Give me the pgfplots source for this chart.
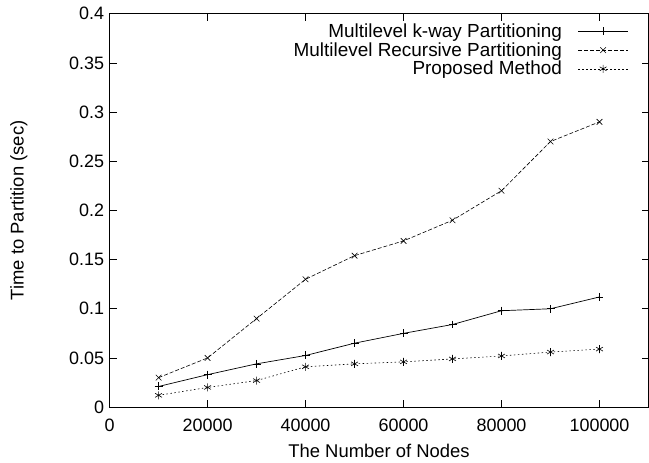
\documentclass[border=0pt]{standalone}
\usepackage{fontspec}
\setmainfont{Liberation Sans}
\usepackage{pgfplots}
\pgfplotsset{compat=1.18}
\usetikzlibrary{plotmarks}
\begin{document}
\begin{tikzpicture}
\begin{axis}[
  scale only axis,
  width=541pt, height=395pt,
  xmin=0, xmax=110000, ymin=0, ymax=0.4,
  xtick={0,20000,...,100000},
  ytick={0,0.05,...,0.4},
  scaled x ticks=false,
  scaled y ticks=false,
  xticklabel style={/pgf/number format/fixed,/pgf/number format/1000 sep={}, yshift=-8pt},
  yticklabel style={/pgf/number format/fixed,/pgf/number format/precision=2, xshift=-2pt},
  /pgf/number format/assume math mode=true,
  tick label style={font=\fontsize{18}{21}\selectfont},
  label style={font=\fontsize{18.5}{21}\selectfont},
  xlabel={The Number of Nodes},
  ylabel={Time to Partition (sec)},
  xlabel style={yshift=-7pt, inner sep=2pt},
  ylabel style={yshift=35pt},
  tick align=inside,
  major tick length=7pt,
  tick style={black, line width=0.6pt},
  axis line style={line width=1pt, black},
  legend style={at={(1,1)}, xshift=-17pt, yshift=-6pt, anchor=north east, draw=none, fill=none,
    font=\fontsize{19}{20}\selectfont, row sep=-0.5pt},
  legend cell align=right,
  legend plot pos=right,
  legend image code/.code={\path (0pt,0pt); \draw[mark repeat=2,mark phase=2,#1] plot coordinates {(14pt,0pt) (39pt,0pt) (64pt,0pt)};},
]
\addplot[black, line width=0.7pt, mark=+, mark size=4pt, mark options={solid, line width=0.6pt}] coordinates {
(10000,0.021) (20000,0.033) (30000,0.044) (40000,0.0525) (50000,0.065)
(60000,0.075) (70000,0.084) (80000,0.098) (90000,0.100) (100000,0.112)};
\addlegendentry{Multilevel k-way Partitioning}
\addplot[black, line width=0.6pt, dash pattern=on 4pt off 2pt, mark=x, mark size=4pt, mark options={solid, line width=0.6pt}] coordinates {
(10000,0.030) (20000,0.050) (30000,0.090) (40000,0.130) (50000,0.154)
(60000,0.169) (70000,0.190) (80000,0.220) (90000,0.270) (100000,0.290)};
\addlegendentry{Multilevel Recursive Partitioning}
\addplot[black, line width=0.6pt, dash pattern=on 1.5pt off 2.5pt, mark=asterisk, mark size=4pt, mark options={solid, line width=0.6pt}] coordinates {
(10000,0.012) (20000,0.020) (30000,0.027) (40000,0.041) (50000,0.044)
(60000,0.046) (70000,0.049) (80000,0.052) (90000,0.056) (100000,0.059)};
\addlegendentry{Proposed Method}
\end{axis}
\path ([xshift=-7pt]current bounding box.west);
\path ([yshift=4pt]current bounding box.north);
\path ([yshift=-3pt]current bounding box.south);
\end{tikzpicture}
\end{document}
